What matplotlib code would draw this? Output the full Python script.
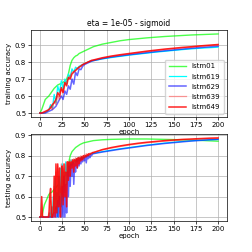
import matplotlib
matplotlib.use('Agg')
import matplotlib.pyplot as plt

# epochs sampled for the training panel (every 2 early, every 10 later)
epochs_train = list(range(0, 61, 2)) + list(range(70, 201, 10))
# epochs sampled for the testing panel (every 1 early, every 10 later)
epochs_test = list(range(0, 61)) + list(range(70, 201, 10))

names = ['lstm01', 'lstm619', 'lstm629', 'lstm639', 'lstm649']

# training accuracy
train_lstm01 = [.50, .52, .55, .58, .59, .60, .615, .63, .645, .655, .665, .67, .675, .68, .69, .70,
                .73, .78, .81, .825, .835, .84, .85, .855, .86, .865, .87, .875, .88, .885, .89,
                .905, .915, .925, .932, .937, .942, .946, .95, .953, .956, .959, .961, .963, .965]
train_lstm619 = [.50, .50, .50, .505, .51, .52, .55, .53, .61, .56, .66, .62, .69, .64, .70, .67,
                 .73, .71, .76, .74, .77, .76, .775, .78, .785, .79, .795, .80, .803, .806, .808,
                 .818, .826, .833, .84, .846, .852, .858, .863, .868, .873, .877, .881, .884, .887]
train_lstm629 = [.50, .50, .50, .50, .505, .51, .515, .52, .53, .54, .56, .58, .60, .58, .63, .61,
                 .66, .64, .70, .67, .74, .72, .76, .755, .775, .785, .79, .795, .80, .805, .808,
                 .82, .829, .836, .843, .849, .855, .861, .866, .871, .876, .881, .885, .889, .893]
train_lstm639 = [.50, .50, .50, .505, .51, .52, .54, .52, .57, .55, .60, .58, .64, .62, .66, .69,
                 .70, .72, .74, .745, .755, .765, .77, .78, .785, .79, .795, .80, .805, .808, .81,
                 .822, .832, .84, .847, .854, .861, .867, .873, .878, .883, .887, .892, .896, .90]
train_lstm649 = [.50, .50, .505, .51, .515, .52, .53, .55, .56, .58, .62, .60, .65, .62, .68, .66,
                 .71, .70, .73, .74, .75, .76, .77, .775, .785, .79, .795, .80, .805, .81, .812,
                 .825, .835, .843, .85, .857, .864, .87, .876, .881, .886, .89, .895, .899, .903]

# testing accuracy
test_lstm01 = [.50, .50, .50, .52, .54, .56, .57, .58, .59, .60, .61, .615, .62, .62, .625, .63,
               .635, .64, .645, .65, .655, .66, .665, .67, .67, .675, .68, .68, .685, .69, .70,
               .72, .75, .78, .80, .81, .82, .825, .83, .835, .84, .843, .846, .849, .852, .855,
               .857, .859, .861, .863, .864, .865, .866, .867, .868, .869, .87, .871, .872, .873, .874,
               .878, .88, .881, .882, .882, .882, .881, .88, .879, .878, .876, .875, .873, .871]
test_lstm619 = [.50, .50, .50, .50, .50, .50, .50, .50, .50, .50, .50, .52, .50, .55, .50, .60,
                .52, .69, .54, .62, .50, .70, .56, .74, .55, .76, .58, .72, .62, .77, .66,
                .76, .70, .77, .73, .78, .75, .77, .76, .78, .765, .785, .77, .79, .775, .79,
                .78, .795, .785, .795, .79, .80, .795, .80, .80, .805, .805, .808, .81, .81, .812,
                .82, .827, .834, .84, .846, .852, .857, .862, .866, .87, .873, .876, .878, .88]
test_lstm629 = [.50, .50, .50, .50, .50, .50, .50, .50, .50, .50, .50, .50, .50, .50, .50, .50,
                .52, .50, .55, .50, .58, .50, .60, .52, .50, .65, .50, .70, .50, .66, .52,
                .72, .60, .75, .65, .76, .70, .77, .66, .76, .72, .78, .74, .78, .75, .785,
                .76, .79, .77, .79, .775, .795, .765, .80, .785, .80, .79, .805, .80, .808, .81,
                .818, .825, .832, .838, .844, .85, .855, .86, .864, .868, .872, .875, .878, .88]
test_lstm639 = [.50, .50, .50, .50, .50, .50, .50, .50, .50, .50, .52, .50, .58, .50, .55, .50,
                .65, .52, .72, .55, .75, .58, .70, .62, .76, .60, .74, .65, .76, .70, .77,
                .72, .77, .75, .78, .76, .78, .77, .785, .77, .79, .775, .79, .78, .795, .785,
                .80, .79, .80, .795, .805, .80, .81, .805, .81, .81, .812, .813, .815, .816, .818,
                .828, .837, .845, .852, .858, .863, .867, .871, .874, .877, .879, .882, .884, .886]
test_lstm649 = [.50, .50, .60, .50, .50, .50, .50, .50, .50, .50, .50, .60, .64, .50, .50, .52,
                .70, .50, .76, .52, .76, .55, .74, .50, .62, .75, .56, .76, .60, .72, .55,
                .77, .68, .77, .70, .77, .74, .78, .72, .78, .75, .785, .74, .79, .76, .79,
                .775, .795, .78, .80, .79, .80, .795, .805, .80, .81, .805, .81, .81, .815, .815,
                .83, .84, .848, .855, .861, .866, .87, .874, .877, .88, .882, .884, .886, .887]

train_series = [train_lstm01, train_lstm619, train_lstm629, train_lstm639, train_lstm649]
test_series = [test_lstm01, test_lstm619, test_lstm629, test_lstm639, test_lstm649]

# style per model
colors = ['lime', 'cyan', 'blue', 'red', 'red']
alphas = [0.7, 1.0, 0.6, 0.4, 0.85]
widths = [1.0, 0.9, 1.1, 0.9, 1.1]

plt.rcParams['font.size'] = 5
fig = plt.figure(figsize=(2.52, 2.52), dpi=100)
ax1 = fig.add_axes([31 / 252, 1 - 117 / 252, 196 / 252, 87 / 252])
ax2 = fig.add_axes([31 / 252, 1 - 221 / 252, 196 / 252, 87 / 252])

for name, ys, c, a, w in zip(names, train_series, colors, alphas, widths):
    ax1.plot(epochs_train, ys, color=c, alpha=a, lw=w, label=name)
for name, ys, c, a, w in zip(names, test_series, colors, alphas, widths):
    ax2.plot(epochs_test, ys, color=c, alpha=a, lw=w, label=name)

ax1.set_title('eta = 1e-05 - sigmoid', fontsize=5.5, pad=3)
ax1.set_ylabel('training accuracy', labelpad=2)
ax2.set_ylabel('testing accuracy', labelpad=2)
for ax in [ax1, ax2]:
    ax.set_xlabel('epoch', labelpad=1)
    ax.set_xticks([0, 25, 50, 75, 100, 125, 150, 175, 200])
    ax.set_yticks([0.5, 0.6, 0.7, 0.8, 0.9])
    ax.grid(True, color='#b0b0b0', lw=0.5)
    ax.tick_params(labelsize=5, length=2, width=0.5, pad=1.5)
    for s in ax.spines.values():
        s.set_linewidth(0.5)

ax1.legend(loc='lower right', fontsize=5, handlelength=2.5, borderpad=0.5, labelspacing=0.6)

fig.savefig('out.png', dpi=100)
